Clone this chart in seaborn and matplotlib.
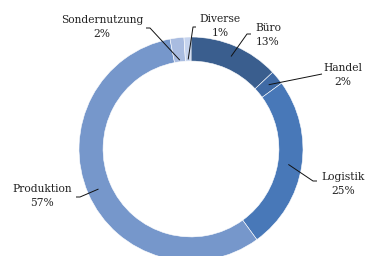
import numpy as np
import matplotlib
matplotlib.use("Agg")
import matplotlib.pyplot as plt
import seaborn as sns

# Data
categories = ["Büro", "Handel", "Logistik", "Produktion", "Sondernutzung", "Diverse"]
shares = [13, 2, 25, 57, 2, 1]
colors = ["#3a5e8e", "#3f6aa5", "#4878b8", "#7697cb", "#a9bce0", "#c6d4ee"]

sns.set_theme(style="white")
plt.rcParams["font.family"] = ["DejaVu Serif"]

W, H = 367, 256
CX, CY, R = 191, 149, 112  # pixel centre / radius of the ring


def px(x, y):
    return (x - CX) / R, (CY - y) / R


fig = plt.figure(figsize=(W / 100, H / 100), dpi=100)
ax = fig.add_axes([0, 0, 1, 1])

wedges, _ = ax.pie(shares, colors=colors, startangle=90, counterclock=False,
                   radius=1.0, wedgeprops=dict(width=0.215, edgecolor="white", linewidth=0.4))

ax.set_aspect("auto")
ax.set_xlim(-CX / R, (W - CX) / R)
ax.set_ylim(-(H - CY) / R, CY / R)
ax.axis("off")

# label layout: elbow points and text centres in pixels
elbows = [((247, 34), (251, 34)), ((322, 74), (322, 74)), ((313, 181), (317, 181)),
          ((80, 197), (76, 197)), ((150, 28), (146, 28)), ((193, 27), (196, 27))]
text_pos = [(268, 35), (343, 75), (343, 184), (42, 196), (102, 27), (220, 26)]
inner_r = [0.9, 0.9, 0.88, 0.9, 0.8, 0.8]

for w, name, val, (e1, e2), tp, rr in zip(wedges, categories, shares, elbows, text_pos, inner_r):
    ang = np.deg2rad((w.theta1 + w.theta2) / 2)
    x0, y0 = rr * np.cos(ang), rr * np.sin(ang)
    x1, y1 = px(*e1)
    x2, y2 = px(*e2)
    ax.plot([x0, x1, x2], [y0, y1, y2], color="#111111", lw=0.7, solid_capstyle="butt")
    tx, ty = px(*tp)
    ax.text(tx, ty, f"{name}\n{val}%", ha="center", va="center", fontsize=7.7,
            color="#222222", linespacing=1.45)

fig.savefig("out.png", dpi=100)
